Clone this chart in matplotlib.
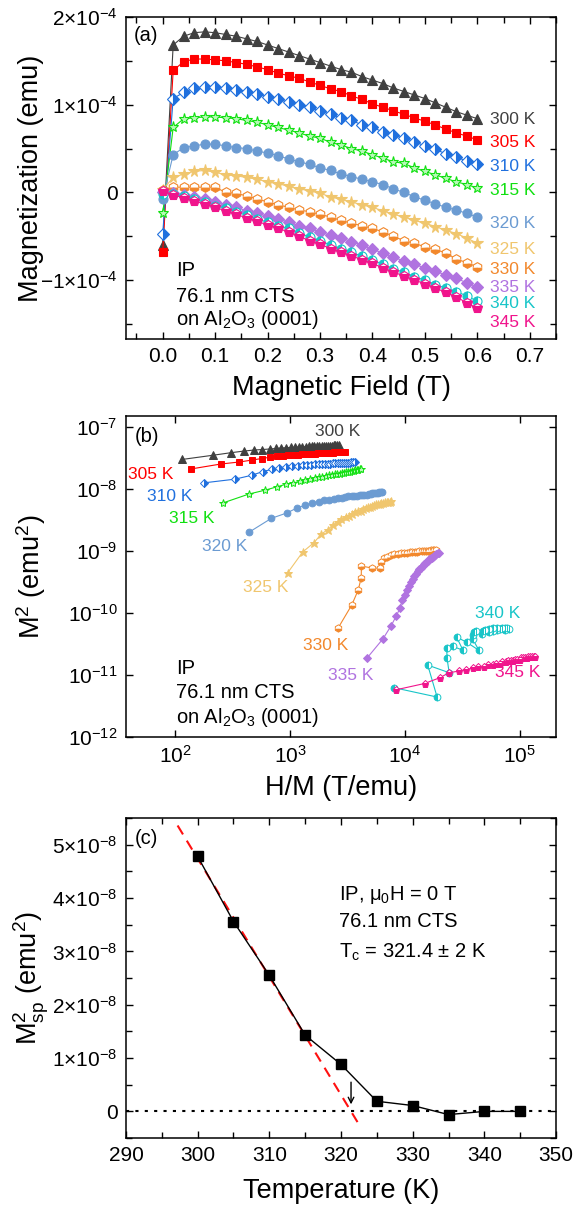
import numpy as np
import matplotlib
matplotlib.use('Agg')
import matplotlib.pyplot as plt
from matplotlib.ticker import MultipleLocator, FixedLocator, FuncFormatter, NullLocator

plt.rcParams['font.family'] = ['Liberation Sans', 'DejaVu Sans']
plt.rcParams['mathtext.fontset'] = 'custom'
plt.rcParams['mathtext.rm'] = 'Liberation Sans'
plt.rcParams['mathtext.it'] = 'Liberation Sans:italic'
plt.rcParams['mathtext.bf'] = 'Liberation Sans:bold'

## data
temps = [300, 305, 310, 315, 320, 325, 330, 335, 340, 345]
colors = ['#404040', '#ff0000', '#2070de', '#10e010', '#6b9bd2',
          '#f0c66e', '#f2882c', '#b073e0', '#18c5c8', '#f0148c']

field = [0.00, 0.02, 0.04, 0.06, 0.08, 0.10, 0.12, 0.14, 0.16, 0.18, 0.20,
         0.22, 0.24, 0.26, 0.28, 0.30, 0.32, 0.34, 0.36, 0.38, 0.40,
         0.42, 0.44, 0.46, 0.48, 0.50, 0.52, 0.54, 0.56, 0.58, 0.60]

# (a) raw magnetization, units of 1e-4 emu
m300 = [-0.60, 1.68, 1.78, 1.82, 1.83, 1.82, 1.80, 1.78, 1.75, 1.72, 1.68, 1.64, 1.60, 1.56, 1.52, 1.48,
        1.44, 1.40, 1.37, 1.32, 1.28, 1.24, 1.19, 1.15, 1.11, 1.07, 1.02, 0.97, 0.92, 0.88, 0.84]
m305 = [-0.68, 1.39, 1.49, 1.52, 1.52, 1.51, 1.50, 1.48, 1.46, 1.43, 1.40, 1.36, 1.33, 1.30, 1.26, 1.22,
        1.18, 1.15, 1.10, 1.06, 1.01, 0.97, 0.93, 0.89, 0.85, 0.81, 0.77, 0.72, 0.68, 0.64, 0.60]
m310 = [-0.47, 1.07, 1.14, 1.19, 1.20, 1.20, 1.19, 1.17, 1.15, 1.12, 1.09, 1.06, 1.03, 1.00, 0.97, 0.93,
        0.89, 0.85, 0.82, 0.77, 0.74, 0.69, 0.65, 0.62, 0.58, 0.53, 0.49, 0.44, 0.40, 0.36, 0.32]
m315 = [-0.24, 0.74, 0.84, 0.85, 0.86, 0.86, 0.85, 0.84, 0.82, 0.80, 0.77, 0.74, 0.71, 0.68, 0.64, 0.62,
        0.57, 0.54, 0.50, 0.47, 0.43, 0.39, 0.35, 0.33, 0.28, 0.24, 0.20, 0.16, 0.12, 0.09, 0.05]
m320 = [-0.07, 0.43, 0.51, 0.53, 0.55, 0.55, 0.53, 0.51, 0.50, 0.47, 0.45, 0.42, 0.38, 0.35, 0.32, 0.28,
        0.25, 0.21, 0.18, 0.15, 0.12, 0.09, 0.04, 0.00, -0.05, -0.09, -0.13, -0.17, -0.20, -0.24, -0.28]
m325 = [0.03, 0.17, 0.21, 0.24, 0.25, 0.23, 0.20, 0.19, 0.17, 0.15, 0.12, 0.10, 0.07, 0.04, 0.02, -0.01,
        -0.05, -0.08, -0.11, -0.14, -0.17, -0.21, -0.25, -0.28, -0.32, -0.35, -0.39, -0.43, -0.47, -0.52, -0.58]
m330 = [0.03, 0.06, 0.06, 0.06, 0.06, 0.06, 0.00, -0.01, -0.04, -0.07, -0.11, -0.14, -0.17, -0.20, -0.22, -0.25,
        -0.28, -0.32, -0.35, -0.38, -0.41, -0.45, -0.50, -0.55, -0.58, -0.62, -0.65, -0.69, -0.76, -0.80, -0.85]
m335 = [0.00, -0.01, -0.03, -0.05, -0.08, -0.11, -0.14, -0.17, -0.21, -0.24, -0.27, -0.30, -0.34, -0.38, -0.41, -0.45,
        -0.49, -0.52, -0.56, -0.60, -0.65, -0.69, -0.74, -0.78, -0.82, -0.86, -0.90, -0.94, -0.98, -1.03, -1.08]
m340 = [-0.02, -0.02, -0.04, -0.08, -0.11, -0.15, -0.18, -0.22, -0.26, -0.30, -0.34, -0.38, -0.41, -0.46, -0.51, -0.55,
        -0.60, -0.64, -0.68, -0.73, -0.77, -0.82, -0.87, -0.91, -0.96, -1.00, -1.05, -1.09, -1.13, -1.18, -1.24]
m345 = [0.02, -0.03, -0.06, -0.10, -0.13, -0.17, -0.21, -0.25, -0.29, -0.33, -0.37, -0.41, -0.45, -0.50, -0.55, -0.59,
        -0.64, -0.68, -0.72, -0.77, -0.81, -0.86, -0.91, -0.95, -1.00, -1.04, -1.09, -1.14, -1.19, -1.26, -1.32]
raw = [m300, m305, m310, m315, m320, m325, m330, m335, m340, m345]

# (b) background-corrected magnetization for H = 0.02 ... 0.60 T, units of 1e-4 emu
c300 = [1.73, 1.87, 1.96, 2.02, 2.06, 2.08, 2.10, 2.12, 2.14, 2.15, 2.16, 2.17, 2.18, 2.19, 2.19,
        2.20, 2.20, 2.21, 2.21, 2.22, 2.22, 2.23, 2.23, 2.24, 2.24, 2.24, 2.25, 2.25, 2.25, 2.26]
c305 = [1.45, 1.59, 1.65, 1.71, 1.76, 1.80, 1.83, 1.85, 1.87, 1.88, 1.89, 1.90, 1.91, 1.92, 1.93,
        1.93, 1.94, 1.94, 1.95, 1.95, 1.96, 1.96, 1.96, 1.97, 1.97, 1.97, 1.98, 1.98, 1.99, 1.99]
c310 = [1.12, 1.20, 1.29, 1.38, 1.44, 1.48, 1.51, 1.53, 1.54, 1.55, 1.56, 1.57, 1.58, 1.58, 1.59,
        1.59, 1.60, 1.60, 1.61, 1.61, 1.61, 1.62, 1.62, 1.62, 1.63, 1.63, 1.63, 1.64, 1.64, 1.64]
c315 = [0.77, 0.91, 0.98, 1.04, 1.09, 1.12, 1.15, 1.18, 1.20, 1.22, 1.24, 1.26, 1.27, 1.29, 1.30,
        1.31, 1.32, 1.33, 1.34, 1.35, 1.36, 1.37, 1.38, 1.39, 1.40, 1.41, 1.42, 1.43, 1.44, 1.45]
c320 = [0.45, 0.58, 0.64, 0.70, 0.74, 0.77, 0.79, 0.81, 0.82, 0.83, 0.84, 0.85, 0.86, 0.87, 0.87,
        0.88, 0.88, 0.89, 0.89, 0.90, 0.90, 0.91, 0.91, 0.92, 0.92, 0.93, 0.93, 0.94, 0.94, 0.95]
c325 = [0.21, 0.31, 0.37, 0.43, 0.47, 0.51, 0.54, 0.57, 0.59, 0.61, 0.63, 0.65, 0.66, 0.67, 0.69,
        0.70, 0.71, 0.72, 0.73, 0.74, 0.75, 0.75, 0.76, 0.77, 0.77, 0.78, 0.78, 0.79, 0.79, 0.80]
c330 = [0.076, 0.116, 0.153, 0.192, 0.239, 0.230, 0.230, 0.258, 0.275, 0.285, 0.292, 0.297, 0.300, 0.303, 0.305,
        0.307, 0.309, 0.310, 0.312, 0.313, 0.314, 0.315, 0.316, 0.317, 0.318, 0.319, 0.320, 0.321, 0.322, 0.322]
c335 = [0.043, 0.062, 0.079, 0.095, 0.110, 0.127, 0.140, 0.153, 0.166, 0.178, 0.189, 0.199, 0.208, 0.217, 0.225,
        0.232, 0.239, 0.246, 0.252, 0.258, 0.264, 0.270, 0.275, 0.280, 0.285, 0.289, 0.294, 0.298, 0.302, 0.305]
c340 = [0.025, 0.021, 0.038, 0.033, 0.043, 0.052, 0.054, 0.050, 0.064, 0.058, 0.050, 0.062, 0.066, 0.070, 0.072,
        0.068, 0.071, 0.073, 0.070, 0.074, 0.072, 0.075, 0.073, 0.076, 0.074, 0.075, 0.073, 0.076, 0.075, 0.074]
c345 = [0.024, 0.027, 0.030, 0.033, 0.034, 0.035, 0.036, 0.037, 0.037, 0.038, 0.038, 0.039, 0.039, 0.040, 0.040,
        0.041, 0.041, 0.041, 0.042, 0.042, 0.042, 0.043, 0.043, 0.043, 0.043, 0.044, 0.044, 0.044, 0.044, 0.044]
corr = [c300, c305, c310, c315, c320, c325, c330, c335, c340, c345]

# (c) spontaneous magnetization squared, units of 1e-8 emu^2
msp2 = [4.78, 3.56, 2.55, 1.43, 0.88, 0.19, 0.11, -0.06, 0.00, 0.00]
tc = 321.4
fit_slope = 0.2215   # 1e-8 emu^2 per K
fit_T = [297.2, 322.7]

# label positions (a: y in data units at fixed x; b: x, y in data units)
lab_a_y = [0.83, 0.57, 0.30, 0.02, -0.35, -0.65, -0.88, -1.08, -1.27, -1.48]
lab_b = [(2612, 8.3e-8), (61.8, 1.68e-8), (90.5, 7.43e-9), (140, 3.4e-9), (272, 1.16e-9),
         (618, 2.53e-10), (2056, 2.94e-11), (3388, 9.64e-12), (64400, 9.64e-11), (96100, 1.08e-11)]

marks = [
    dict(marker='^'),
    dict(marker='s'),
    dict(marker='D', fillstyle='right', markerfacecoloralt='white'),
    dict(marker='*', markerfacecolor='#b8f7b8'),
    dict(marker='o'),
    dict(marker='*'),
    dict(marker='h', fillstyle='bottom', markerfacecoloralt='white'),
    dict(marker='D'),
    dict(marker='o', fillstyle='left', markerfacecoloralt='white'),
    dict(marker='p', fillstyle='bottom', markerfacecoloralt='white'),
]
msize_a = [7, 6, 6, 8, 6.5, 8.5, 7, 6, 6.5, 7]


def style(ax):
    ax.tick_params(which='both', direction='in', top=True, right=True,
                   labelsize=15, width=1, pad=6)
    ax.tick_params(which='major', length=5)
    ax.tick_params(which='minor', length=4)
    for s in ax.spines.values():
        s.set_linewidth(1.1)


fig = plt.figure(figsize=(5.83, 12.08), dpi=100)
axa = fig.add_axes([0.2161, 0.7194, 0.7376, 0.2666])
axb = fig.add_axes([0.2161, 0.3899, 0.7376, 0.2657])
axc = fig.add_axes([0.2161, 0.0579, 0.7376, 0.2649])

## panel (a)
H = np.array(field)
for i, t in enumerate(temps):
    axa.plot(H, np.array(raw[i]) * 1e-4, color=colors[i], lw=0.8, ms=msize_a[i],
             mec=colors[i], mew=0.8, **marks[i])
    axa.text(0.624, lab_a_y[i] * 1e-4, '%d K' % t, color=colors[i], fontsize=12.5,
             ha='left', va='center')
axa.set_xlim(-0.07, 0.75)
axa.set_ylim(-1.67e-4, 2.0e-4)
axa.xaxis.set_major_locator(MultipleLocator(0.1))
axa.xaxis.set_minor_locator(MultipleLocator(0.05))
axa.yaxis.set_major_locator(FixedLocator([-1e-4, 0, 1e-4, 2e-4]))
axa.yaxis.set_minor_locator(MultipleLocator(0.5e-4))


def fmt_a(v, pos):
    n = int(round(v / 1e-4))
    if n == 0:
        return '0'
    return r'$%d{\times}10^{-4}$' % n


axa.yaxis.set_major_formatter(FuncFormatter(fmt_a))
axa.xaxis.set_major_formatter(FuncFormatter(lambda v, p: '%.1f' % v))
style(axa)
axa.set_xlabel('Magnetic Field (T)', fontsize=19.5, va='center')
axa.set_ylabel('Magnetization (emu)', fontsize=19.5, va='center')
axa.xaxis.set_label_coords(0.5, -0.152)
axa.yaxis.set_label_coords(-0.221, 0.5)
axa.text(0.019, 0.925, '(a)', transform=axa.transAxes, fontsize=14.5, va='baseline')
axa.text(0.116, 0.196, 'IP', transform=axa.transAxes, fontsize=14.5, va='baseline')
axa.text(0.116, 0.115, '76.1 nm CTS', transform=axa.transAxes, fontsize=14.5, va='baseline')
axa.text(0.116, 0.043, r'on Al$_2$O$_3$ (0001)', transform=axa.transAxes, fontsize=14.5, va='baseline')

## panel (b)
Hb = H[1:]
for i, t in enumerate(temps):
    m = np.array(corr[i]) * 1e-4
    axb.plot(Hb / m, m ** 2, color=colors[i], lw=0.8, ms=msize_a[i] * 0.75,
             mec=colors[i], mew=0.7, **marks[i])
    axb.text(lab_b[i][0], lab_b[i][1], '%d K' % t, color=colors[i], fontsize=12.5,
             ha='center', va='center')
axb.set_xscale('log')
axb.set_yscale('log')
axb.set_xlim(37.5, 2.06e5)
axb.set_ylim(1e-12, 1.5e-7)
axb.xaxis.set_major_locator(FixedLocator([1e2, 1e3, 1e4, 1e5]))
axb.yaxis.set_major_locator(FixedLocator([1e-12, 1e-11, 1e-10, 1e-9, 1e-8, 1e-7]))
axb.xaxis.set_minor_locator(NullLocator())
axb.yaxis.set_minor_locator(NullLocator())
style(axb)
axb.set_xlabel('H/M (T/emu)', fontsize=19.5, va='center')
axb.set_ylabel(r'M$^2$ (emu$^2$)', fontsize=19.5, va='center')
axb.xaxis.set_label_coords(0.5, -0.159)
axb.yaxis.set_label_coords(-0.221, 0.5)
axb.text(0.021, 0.919, '(b)', transform=axb.transAxes, fontsize=14.5, va='baseline')
axb.text(0.116, 0.196, 'IP', transform=axb.transAxes, fontsize=14.5, va='baseline')
axb.text(0.116, 0.121, '76.1 nm CTS', transform=axb.transAxes, fontsize=14.5, va='baseline')
axb.text(0.116, 0.044, r'on Al$_2$O$_3$ (0001)', transform=axb.transAxes, fontsize=14.5, va='baseline')

## panel (c)
axc.axhline(0, color='k', lw=1.5, ls=(0, (1.5, 3)))
fT = np.array(fit_T)
axc.plot(fT, fit_slope * (tc - fT) * 1e-8, color='#ff1010', lw=1.5, ls=(0, (5, 3.5)))
axc.plot(temps, np.array(msp2) * 1e-8, color='k', lw=1, marker='s', ms=6.5)
axc.annotate('', xy=(tc, 0.08e-8), xytext=(tc, 0.6e-8),
             arrowprops=dict(arrowstyle='->', color='k', lw=1))
axc.set_xlim(290, 350)
axc.set_ylim(-0.5e-8, 5.5e-8)
axc.xaxis.set_major_locator(MultipleLocator(10))
axc.xaxis.set_minor_locator(MultipleLocator(5))
axc.yaxis.set_major_locator(FixedLocator([0, 1e-8, 2e-8, 3e-8, 4e-8, 5e-8]))
axc.yaxis.set_minor_locator(MultipleLocator(0.5e-8))


def fmt_c(v, pos):
    n = int(round(v / 1e-8))
    if n == 0:
        return '0'
    return r'$%d{\times}10^{-8}$' % n


axc.yaxis.set_major_formatter(FuncFormatter(fmt_c))
style(axc)
axc.set_xlabel('Temperature (K)', fontsize=19.5, va='center')
axc.set_ylabel(r'M$^2_{\rm sp}$ (emu$^2$)', fontsize=19.5, va='center')
axc.xaxis.set_label_coords(0.5, -0.166)
axc.yaxis.set_label_coords(-0.221, 0.5)
axc.text(0.021, 0.919, '(c)', transform=axc.transAxes, fontsize=14.5, va='baseline')
axc.text(0.4965, 0.744, r'IP, μ$_0$H = 0 T', transform=axc.transAxes, fontsize=14.5, va='baseline')
axc.text(0.4965, 0.659, '76.1 nm CTS', transform=axc.transAxes, fontsize=14.5, va='baseline')
axc.text(0.4965, 0.5625, r'T$_{\rm c}$ = 321.4 ± 2 K', transform=axc.transAxes, fontsize=14.5, va='baseline')

fig.savefig('out.png', dpi=100)
